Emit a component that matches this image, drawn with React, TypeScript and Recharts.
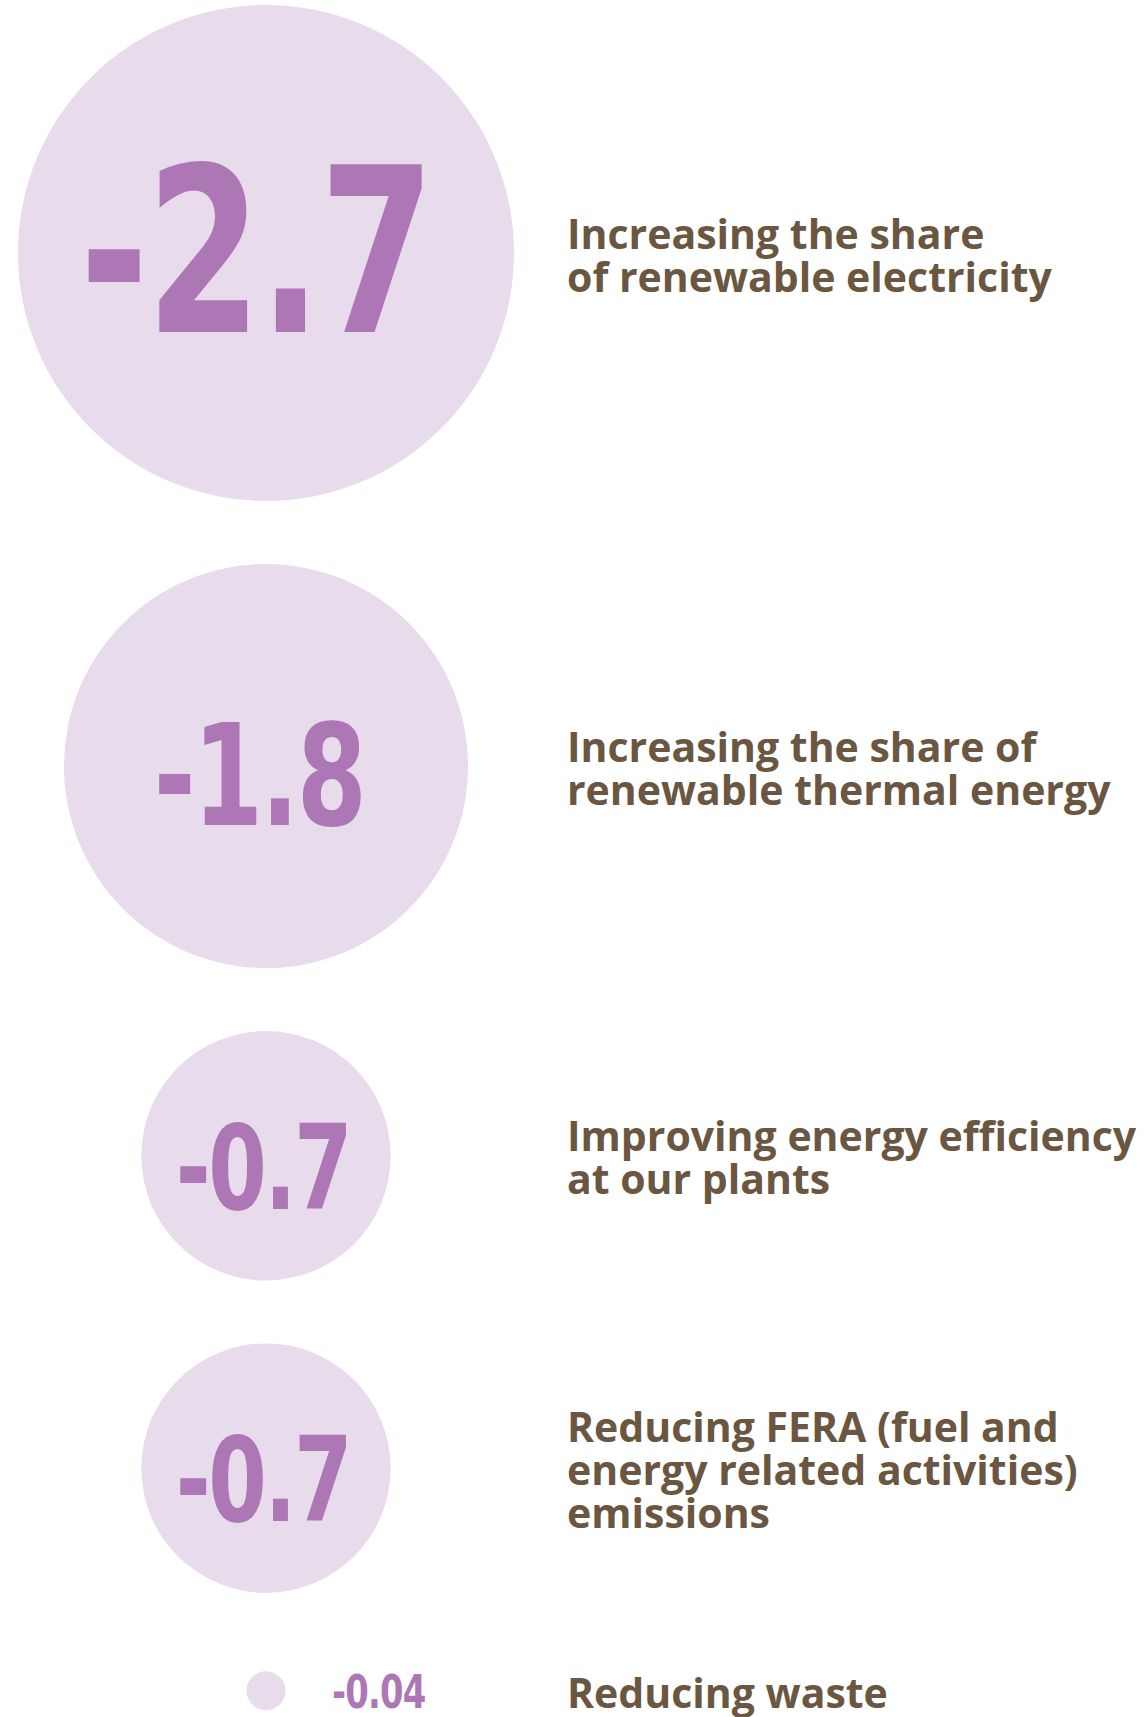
import React from "react";
import { ScatterChart, Scatter, XAxis, YAxis, ZAxis } from "recharts";

const labels = [
  ["Increasing the share", "of renewable electricity"],
  ["Increasing the share of", "renewable thermal energy"],
  ["Improving energy efficiency", "at our plants"],
  ["Reducing FERA (fuel and", "energy related activities)", "emissions"],
  ["Reducing waste"],
];
const values = [-2.7, -1.8, -0.7, -0.7, -0.04];
const valueText = ["-2.7", "-1.8", "-0.7", "-0.7", "-0.04"];

const W = 1146;
const H = 1717;
const CIRCLE = "#e8dbeb";
const NUM = "#ad76b4";
const BROWN = "#6a5641";
// per-row number styling
const NUM_FONT = [230, 140, 117, 117, 47];
const NUM_DX = [-10, -7, -3, -3, 66];
const NUM_DY = [-4, 9, 11, 11, 0];
const NUM_STACK = '"Liberation Sans Narrow", "DejaVu Sans Condensed", "DejaVu Sans", sans-serif';

// bubble area scale (matches ZAxis below)
const Z_DOMAIN = [0.04, 2.7];
const Z_RANGE = [Math.PI * 19.5 * 19.5, Math.PI * 248 * 248];
const radius = (v: number) => {
  const a = Z_RANGE[0] + ((v - Z_DOMAIN[0]) / (Z_DOMAIN[1] - Z_DOMAIN[0])) * (Z_RANGE[1] - Z_RANGE[0]);
  return Math.sqrt(a / Math.PI);
};

// stack the rows top to bottom, each row at least as tall as its text
const GAP = 63;
const MIN_HALF = 35;
const rows = (() => {
  let prev = 5;
  return values.map((v, i) => {
    const half = Math.max(radius(Math.abs(v)), MIN_HALF);
    const y = prev + (i ? GAP : 0) + half;
    prev = y + half;
    return { i, x: 266, y, z: Math.abs(v), value: v };
  });
})();

function Bubble(props: any) {
  const { cx, cy, payload } = props;
  const i = payload.i;
  const r = radius(payload.z);
  const fs = NUM_FONT[i];
  const small = r < 40;
  const lines = labels[i];
  const lh = 43;
  const first = cy - ((lines.length - 1) * lh) / 2 + 17;
  const tx = cx + NUM_DX[i];
  const sx = 0.8;
  return (
    <g>
      <circle cx={cx} cy={cy} r={r} fill={CIRCLE} />
      <text
        x={tx}
        y={cy + fs * 0.36 + NUM_DY[i]}
        textAnchor={small ? "start" : "middle"}
        fill={NUM}
        fontFamily={NUM_STACK}
        fontWeight={700}
        fontSize={fs}
        letterSpacing={small ? -1 : -3}
        transform={`translate(${tx} 0) scale(${sx} 1) translate(${-tx} 0)`}
      >
        {valueText[i]}
      </text>
      <text x={567} y={first} fill={BROWN} fontFamily='"Open Sans", sans-serif' fontWeight={700} fontSize={41}>
        {lines.map((l, k) => (
          <tspan key={k} x={567} y={first + k * lh}>
            {l}
          </tspan>
        ))}
      </text>
    </g>
  );
}

export default function App() {
  return (
    <div style={{ position: "absolute", left: 0, top: 0, width: W, height: H, background: "#fff" }}>
      <ScatterChart width={W} height={H} margin={{ top: 0, right: 0, bottom: 0, left: 0 }}>
        <XAxis type="number" dataKey="x" domain={[0, W]} hide />
        <YAxis type="number" dataKey="y" domain={[0, H]} reversed hide />
        <ZAxis type="number" dataKey="z" domain={Z_DOMAIN} range={Z_RANGE} />
        <Scatter data={rows} shape={<Bubble />} isAnimationActive={false} />
      </ScatterChart>
    </div>
  );
}
